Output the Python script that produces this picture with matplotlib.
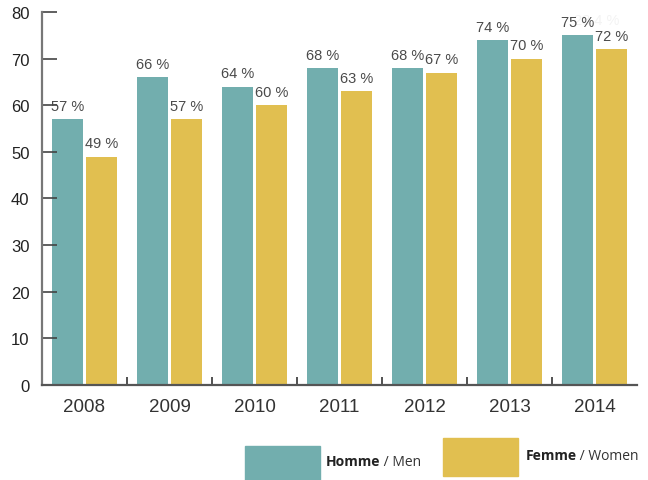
import matplotlib
matplotlib.use("Agg")
import matplotlib.pyplot as plt
from matplotlib.patches import Rectangle
import numpy as np

years = ["2008", "2009", "2010", "2011", "2012", "2013", "2014"]
men = [57, 66, 64, 68, 68, 74, 75]
women = [49, 57, 60, 63, 67, 70, 72]
yticks = [0, 10, 20, 30, 40, 50, 60, 70, 80]

teal = "#72AEAE"
gold = "#E1BF50"

fig = plt.figure(figsize=(6.48, 4.81), dpi=100)
ax = fig.add_axes([42/648, 1-386/481, (637-42)/648, (386-13)/481])

x = np.arange(len(years))
w = 0.364
gap = 0.018
b1 = ax.bar(x - w/2 - gap, men, width=w, color=teal)
b2 = ax.bar(x + w/2 + gap, women, width=w, color=gold)

for rects, vals in ((b1, men), (b2, women)):
    for r, v in zip(rects, vals):
        ax.annotate(f"{v} %", (r.get_x() + r.get_width()/2, v), xytext=(0, 4.5),
                    textcoords="offset points", ha="center", va="bottom",
                    fontsize=10.5, color="#4a4a4a", family="Liberation Sans")

# faint ghost label
ax.text(6.02, 78.2, "28,4 %", ha="center", va="center", fontsize=10.5,
        color="#f3f3f3", family="Liberation Sans", zorder=0)

ax.set_xlim(-0.5, 6.5)
ax.set_ylim(0, 80)
ax.set_yticks(yticks)
ax.set_yticklabels([str(t) for t in yticks], family="Liberation Sans", fontsize=12, color="#222222")
ax.set_xticks(x)
ax.set_xticklabels(years, family="Liberation Sans", fontsize=13.5, color="#333333")
ax.set_xticks(np.arange(0.5, 6, 1), minor=True)
ax.tick_params(axis="x", which="major", length=0, pad=9)
ax.tick_params(axis="x", which="minor", direction="in", length=6, width=1.2, color="#333333")
ax.tick_params(axis="y", direction="in", length=11, width=1.2, color="#444444", pad=9)

for s in ("top", "right"):
    ax.spines[s].set_visible(False)
ax.spines["left"].set_color("#777777")
ax.spines["left"].set_linewidth(1.6)
ax.spines["bottom"].set_color("#555555")
ax.spines["bottom"].set_linewidth(1.6)

# legend
def fr(xp, yp):
    return xp/648, 1 - yp/481

x0, y0 = fr(245, 481)
fig.add_artist(Rectangle((x0, y0), 75/648, 34/481, transform=fig.transFigure, color=teal))
x0, y0 = fr(443, 477)
fig.add_artist(Rectangle((x0, y0), 75/648, 38/481, transform=fig.transFigure, color=gold))

renderer = fig.canvas.get_renderer()
def mixed(xp, yp, bold, normal):
    tx, ty = fr(xp, yp)
    t1 = fig.text(tx, ty, bold, fontsize=10, fontweight="bold", family="Open Sans",
                  color="#222222", va="center", ha="left")
    bb = t1.get_window_extent(renderer=renderer)
    fig.text(bb.x1/648 - 0.001, ty, normal, fontsize=10, family="Open Sans",
             color="#333333", va="center", ha="left")

mixed(326, 462, "Homme", " / Men")
mixed(526, 456, "Femme", " / Women")

fig.savefig("out.png", dpi=100)
